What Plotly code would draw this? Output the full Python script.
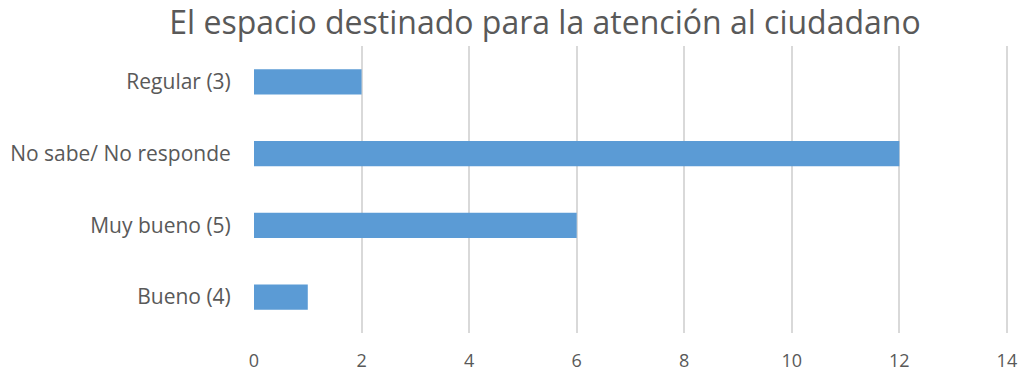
import plotly.graph_objects as go

# Survey responses about the citizen service area
categories = ["Bueno (4)", "Muy bueno (5)", "No sabe/ No responde", "Regular (3)"]
counts = [1, 6, 12, 2]
x_ticks = [0, 2, 4, 6, 8, 10, 12, 14]

TEXT_GRAY = "#595959"

fig = go.Figure(
    go.Bar(
        x=counts,
        y=categories,
        orientation="h",
        marker=dict(color="#5B9BD5", line=dict(width=0)),
    )
)

fig.update_layout(
    width=1023,
    height=374,
    margin=dict(l=254, r=15, t=46, b=41),
    paper_bgcolor="white",
    plot_bgcolor="white",
    bargap=0.645,
    showlegend=False,
    font=dict(family="Open Sans", color=TEXT_GRAY),
    title=dict(
        text="El espacio destinado para la atención al ciudadano",
        x=545 / 1023,
        xref="container",
        xanchor="center",
        y=1 - 23 / 374,
        yref="container",
        yanchor="middle",
        font=dict(family="Open Sans", size=32, color=TEXT_GRAY),
    ),
)

fig.update_xaxes(
    range=[0, 14.02],
    tickvals=x_ticks,
    showgrid=True,
    gridcolor="#D9D9D9",
    gridwidth=2,
    zeroline=False,
    showline=False,
    ticks="outside",
    ticklen=11,
    tickcolor="rgba(0,0,0,0)",
    tickfont=dict(size=18, color=TEXT_GRAY),
    automargin=False,
    fixedrange=True,
)

fig.update_yaxes(
    categoryorder="array",
    categoryarray=categories,
    showgrid=False,
    zeroline=False,
    showline=False,
    ticks="outside",
    ticklen=18,
    tickcolor="rgba(0,0,0,0)",
    tickfont=dict(size=21, color=TEXT_GRAY),
    automargin=False,
    fixedrange=True,
)

fig.write_html("out.html")
